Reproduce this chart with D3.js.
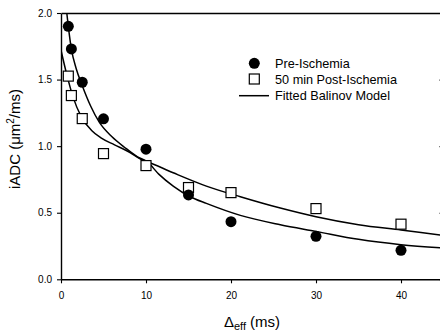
<!DOCTYPE html>
<html>
<head>
<meta charset="utf-8">
<script src="https://cdn.jsdelivr.net/npm/d3@7"></script>
<style>
    body { margin: 0; background: #fff; }
    text { font-family: Arial, 'Liberation Sans', sans-serif; fill: #000; }
</style>
</head>
<body>
<script>
// measured points, delta_eff in ms, iADC in um^2/ms
const deltaPre = [0.86, 1.22, 2.5, 5, 10, 15, 20, 30, 40]
const adcPre = [1.90, 1.73, 1.48, 1.205, 0.977, 0.634, 0.433, 0.323, 0.218]
const deltaPost = [0.86, 1.22, 2.5, 5, 10, 15, 20, 30, 40]
const adcPost = [1.526, 1.38, 1.207, 0.944, 0.854, 0.689, 0.651, 0.531, 0.414]

// fitted curves
const fitPreX = [0.68, 0.86, 1.22, 1.8, 2.47, 3.5, 4.5, 6, 7.5, 9, 10.1, 11.5, 13.2, 15.2, 17.1, 21.1, 25.8, 30, 35, 40, 45]
const fitPreY = [2.0, 1.90, 1.73, 1.58, 1.46, 1.30, 1.18, 1.07, 0.99, 0.92, 0.885, 0.79, 0.70, 0.62, 0.57, 0.48, 0.41, 0.36, 0.30, 0.26, 0.235]
const fitPostX = [0, 0.63, 1.41, 2.39, 3.57, 4.75, 6.3, 7.9, 9.45, 10.1, 13.2, 17.1, 21.1, 25.8, 30, 35, 40, 45]
const fitPostY = [1.72, 1.55, 1.37, 1.22, 1.12, 1.06, 1.01, 0.96, 0.90, 0.885, 0.80, 0.70, 0.62, 0.535, 0.47, 0.41, 0.37, 0.33]

const xTicks = [0, 10, 20, 30, 40]
const yTicks = [0, 0.5, 1.0, 1.5, 2.0]
const legendLabels = ['Pre-Ischemia', '50 min Post-Ischemia', 'Fitted Balinov Model']

const m = {
    width: 440,
    height: 333,
    left: 61,
    right: 443.5,
    top: 13,
    bottom: 279.3
}

const svg = d3.select('body').append('svg')
    .attr('width', m.width)
    .attr('height', m.height)

const x = d3.scaleLinear().domain([0, 45]).range([m.left, m.right])
const y = d3.scaleLinear().domain([0, 2]).range([m.bottom, m.top])

svg.append('clipPath')
    .attr('id', 'plot')
    .append('rect')
    .attr('x', m.left)
    .attr('y', m.top)
    .attr('width', m.right - m.left)
    .attr('height', m.bottom - m.top)

// axes
const xAxis = svg.append('g')
    .attr('transform', `translate(0,${m.bottom})`)
    .call(d3.axisBottom(x).tickValues(xTicks).tickSize(4).tickSizeOuter(0).tickPadding(9)
        .tickFormat(d3.format('d')))

const yAxis = svg.append('g')
    .attr('transform', `translate(${m.left},0)`)
    .call(d3.axisLeft(y).tickValues(yTicks).tickSize(4).tickSizeOuter(0).tickPadding(5)
        .tickFormat(d3.format('.1f')))

const topAxis = svg.append('g')
    .attr('transform', `translate(0,${m.top})`)
    .call(d3.axisTop(x).tickValues([]).tickSizeOuter(0))

const rightAxis = svg.append('g')
    .attr('transform', `translate(${m.right},0)`)
    .call(d3.axisRight(y).tickValues(yTicks).tickSize(-4).tickSizeOuter(0).tickFormat(''))

svg.selectAll('.domain').attr('stroke', '#000').attr('stroke-width', 1.4)
svg.selectAll('.tick line').attr('stroke', '#000').attr('stroke-width', 1.1)
svg.selectAll('.tick text').attr('font-size', 10).attr('fill', '#222')
    .attr('font-family', "Arial, 'Liberation Sans', sans-serif")

// fitted curves
const line = d3.line()
    .x(function (d) { return x(d[0]) })
    .y(function (d) { return y(d[1]) })
    .curve(d3.curveMonotoneX)

const curves = [d3.zip(fitPreX, fitPreY), d3.zip(fitPostX, fitPostY)]

svg.append('g')
    .attr('clip-path', 'url(#plot)')
    .selectAll('path')
    .data(curves)
    .enter()
    .append('path')
    .attr('d', line)
    .attr('fill', 'none')
    .attr('stroke', '#000')
    .attr('stroke-width', 1.5)

// points
svg.append('g')
    .selectAll('rect')
    .data(d3.zip(deltaPost, adcPost))
    .enter()
    .append('rect')
    .attr('x', function (d) { return x(d[0]) - 5 })
    .attr('y', function (d) { return y(d[1]) - 5 })
    .attr('width', 10)
    .attr('height', 10)
    .attr('fill', '#fff')
    .attr('stroke', '#000')
    .attr('stroke-width', 1.2)

svg.append('g')
    .selectAll('circle')
    .data(d3.zip(deltaPre, adcPre))
    .enter()
    .append('circle')
    .attr('cx', function (d) { return x(d[0]) })
    .attr('cy', function (d) { return y(d[1]) })
    .attr('r', 5.5)
    .attr('fill', '#000')

// legend
const lg = svg.append('g')
lg.append('circle').attr('cx', 254.3).attr('cy', 63.3).attr('r', 5.5).attr('fill', '#000')
lg.append('rect').attr('x', 249.3).attr('y', 74).attr('width', 10).attr('height', 10)
    .attr('fill', '#fff').attr('stroke', '#000').attr('stroke-width', 1.2)
lg.append('line').attr('x1', 239).attr('x2', 269).attr('y1', 95.7).attr('y2', 95.7)
    .attr('stroke', '#000').attr('stroke-width', 1.5)
lg.selectAll('text')
    .data(legendLabels)
    .enter()
    .append('text')
    .attr('x', 275)
    .attr('y', function (d, i) { return 63.3 + i * 16.2 })
    .attr('dy', '0.35em')
    .attr('font-size', 12.7)
    .text(function (d) { return d })

// axis titles
const xt = svg.append('text')
    .attr('x', 252)
    .attr('y', 326.5)
    .attr('text-anchor', 'middle')
    .attr('font-size', 15)
xt.append('tspan').text('\u0394')
xt.append('tspan').attr('font-size', 11).attr('dy', 3.5).text('eff')
xt.append('tspan').attr('dy', -3.5).text(' (ms)')

const yt = svg.append('text')
    .attr('transform', 'translate(20,139) rotate(-90)')
    .attr('text-anchor', 'middle')
    .attr('font-size', 15)
yt.append('tspan').text('iADC (\u03bcm')
yt.append('tspan').attr('font-size', 10).attr('dy', -6).text('2')
yt.append('tspan').attr('dy', 6).text('/ms)')
</script>
</body>
</html>
